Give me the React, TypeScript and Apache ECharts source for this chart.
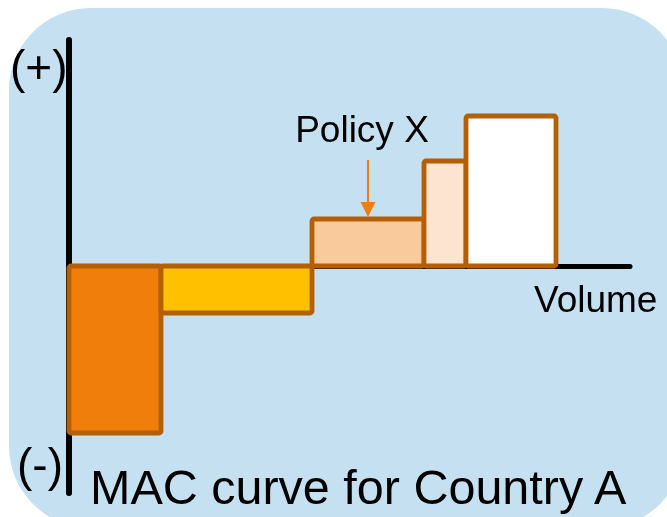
import React, { useEffect, useRef } from "react";
import * as echarts from "echarts";

// Abatement options along the MAC curve (width = volume, height = marginal cost)
const options = ["Option 1", "Option 2", "Policy X", "Option 4", "Option 5"];
const volumes = [9.2, 15.1, 11.2, 4.2, 9.0];
const costs = [-16.7, -4.7, 4.7, 10.5, 15.0];
const fills = ["#EF7E0B", "#FFC000", "#F9CB9C", "#FCE4D0", "#FFFFFF"];
const policyLabel = "Policy X";
const policyIndex = 2;

const xMax = 56.1;
const yMin = -22.7;
const yMax = 22.6;

export default function App() {
  const ref = useRef<HTMLDivElement>(null);

  useEffect(() => {
    if (!ref.current) return;
    const chart = echarts.init(ref.current, null, { renderer: "svg" });

    let acc = 0;
    const data = volumes.map((v, i) => {
      const start = acc;
      acc += v;
      return { name: options[i], value: [start, acc, costs[i]] };
    });

    const font = "Liberation Sans, Arial, sans-serif";

    chart.setOption({
      animation: false,
      graphic: [
        {
          type: "rect",
          z: -10,
          shape: { x: 9, y: 8, width: 675, height: 520, r: 82 },
          style: { fill: "#C5E1F1" },
        },
        {
          type: "text",
          z: 10,
          style: { text: "(+)", x: 10, y: 67, fill: "#000", fontSize: 46, fontFamily: font, verticalAlign: "middle", align: "left" },
        },
        {
          type: "text",
          z: 10,
          style: { text: "(-)", x: 17, y: 465, fill: "#000", fontSize: 46, fontFamily: font, verticalAlign: "middle", align: "left" },
        },
        {
          type: "text",
          z: 10,
          style: { text: "Volume", x: 534, y: 299, fill: "#000", fontSize: 37, fontFamily: font, verticalAlign: "middle", align: "left" },
        },
        {
          type: "text",
          z: 10,
          style: { text: "MAC curve for Country A", x: 90, y: 487, fill: "#000", fontSize: 48.5, fontFamily: font, verticalAlign: "middle", align: "left" },
        },
      ],
      grid: { left: 69, top: 40, width: 561, height: 453, containLabel: false },
      xAxis: {
        type: "value",
        min: 0,
        max: xMax,
        axisLine: { show: true, onZero: true, lineStyle: { color: "#000", width: 5 } },
        axisTick: { show: false },
        axisLabel: { show: false },
        splitLine: { show: false },
      },
      yAxis: {
        type: "value",
        min: yMin,
        max: yMax,
        axisLine: { show: true, onZero: false, lineStyle: { color: "#000", width: 6 } },
        axisTick: { show: false },
        axisLabel: { show: false },
        splitLine: { show: false },
      },
      series: [
        {
          type: "custom",
          z: 5,
          data,
          renderItem: (params: any, api: any) => {
            const i = params.dataIndex;
            const p0 = api.coord([api.value(0), api.value(2)]);
            const p1 = api.coord([api.value(1), 0]);
            const x = Math.min(p0[0], p1[0]);
            const y = Math.min(p0[1], p1[1]);
            const w = Math.abs(p1[0] - p0[0]);
            const h = Math.abs(p1[1] - p0[1]);
            const children: any[] = [
              {
                type: "rect",
                shape: { x, y, width: w, height: h, r: 2 },
                style: { fill: fills[i], stroke: "#B45F06", lineWidth: 4.8 },
              },
            ];
            if (i === policyIndex) {
              const cx = x + w / 2;
              const top = y - 2;
              children.push(
                {
                  type: "line",
                  shape: { x1: cx, y1: top - 57, x2: cx, y2: top - 12 },
                  style: { stroke: "#EE7D12", lineWidth: 2 },
                },
                {
                  type: "polygon",
                  shape: { points: [[cx - 7.5, top - 15], [cx + 7.5, top - 15], [cx, top]] },
                  style: { fill: "#EE7D12" },
                },
                {
                  type: "text",
                  style: {
                    text: policyLabel,
                    x: cx - 6,
                    y: top - 88,
                    fill: "#000",
                    fontSize: 37,
                    fontFamily: font,
                    align: "center",
                    verticalAlign: "middle",
                  },
                }
              );
            }
            return { type: "group", children };
          },
        },
      ],
    });

    return () => chart.dispose();
  }, []);

  return (
    <div
      ref={ref}
      style={{ position: "fixed", left: 0, top: 0, width: 667, height: 517 }}
    />
  );
}
